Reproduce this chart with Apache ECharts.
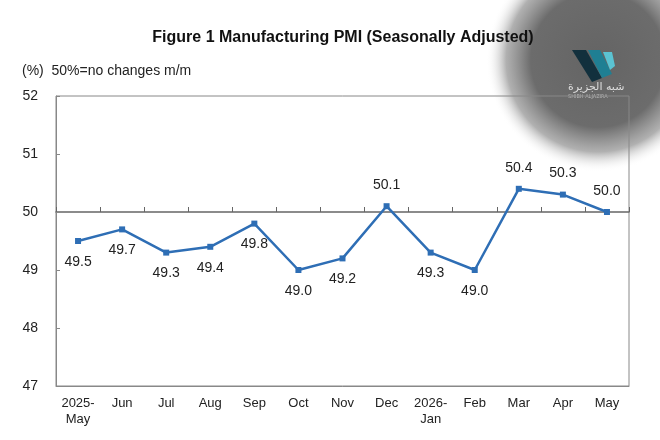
<!DOCTYPE html>
<html lang="en">
<head>
    <meta charset="UTF-8">
    <title>Manufacturing PMI</title>
    <script src="https://cdn.jsdelivr.net/npm/echarts@6/dist/echarts.min.js"></script>
    <style type="text/css">
    html, body { margin: 0; padding: 0; background: #fff; }
    #main { width: 660px; height: 440px; }
    </style>
</head>
<body>
    <div id="main"></div>
    <script type="text/javascript">
        // data
        var months = ['2025-\nMay', 'Jun', 'Jul', 'Aug', 'Sep', 'Oct', 'Nov', 'Dec', '2026-\nJan', 'Feb', 'Mar', 'Apr', 'May'];
        var pmi = [49.5, 49.7, 49.3, 49.4, 49.8, 49.0, 49.2, 50.1, 49.3, 49.0, 50.4, 50.3, 50.0];
        var labelAbove = [false, false, false, false, false, false, false, true, false, false, true, true, true];
        var yMin = 47, yMax = 52, baseLine = 50;

        var gridTop = 96, gridBottom = 54;
        var gridHeight = 440 - gridTop - gridBottom;
        // where the 50 line sits, measured up from the bottom of the grid
        var baseOffset = (baseLine - yMin) / (yMax - yMin) * gridHeight;

        var seriesData = [];
        for (var i = 0; i < pmi.length; i++) {
            seriesData.push({
                value: pmi[i],
                label: { position: labelAbove[i] ? 'top' : 'bottom' }
            });
        }

        var myChart = echarts.init(document.getElementById('main'));
        var option = {
            backgroundColor: '#fff',
            animation: false,
            textStyle: { fontFamily: 'Liberation Sans, Arial, sans-serif' },
            title: {
                text: 'Figure 1 Manufacturing PMI (Seasonally Adjusted)',
                left: 338,
                textAlign: 'center',
                top: 25,
                textStyle: { fontSize: 16, fontWeight: 'bold', color: '#111' }
            },
            graphic: [{
                // watermark behind the chart
                type: 'circle',
                z: -10,
                silent: true,
                shape: { cx: 598, cy: 60, r: 112 },
                style: {
                    fill: {
                        type: 'radial', x: 0.5, y: 0.5, r: 0.5,
                        colorStops: [
                            { offset: 0, color: 'rgba(100,100,100,1)' },
                            { offset: 0.6, color: 'rgba(108,108,108,1)' },
                            { offset: 0.82, color: 'rgba(150,150,150,0.75)' },
                            { offset: 1, color: 'rgba(255,255,255,0)' }
                        ]
                    }
                }
            }, {
                type: 'polygon', z: -9, silent: true,
                shape: { points: [[572, 50], [586, 50], [602, 78], [592, 82]] },
                style: { fill: '#12303d' }
            }, {
                type: 'polygon', z: -9, silent: true,
                shape: { points: [[588, 50], [600, 50], [612, 74], [602, 78]] },
                style: { fill: '#1f7f93' }
            }, {
                type: 'polygon', z: -9, silent: true,
                shape: { points: [[603, 52], [612, 52], [615, 66], [610, 70]] },
                style: { fill: '#5bc3d2' }
            }, {
                type: 'text', z: -9, silent: true,
                left: 568, top: 82,
                style: { text: 'شبه الجزيرة', fill: '#ddd', font: '11px DejaVu Sans' }
            }, {
                type: 'text', z: -9, silent: true,
                left: 568, top: 94,
                style: { text: 'SHIBH ALJAZIRA', fill: '#bbb', font: '5px DejaVu Sans' }
            }, {
                type: 'text',
                left: 22, top: 64,
                style: { text: '(%)  50%=no changes m/m', fill: '#222', font: '14px Liberation Sans' }
            }],
            grid: {
                left: 56,
                right: 31,
                top: gridTop,
                bottom: gridBottom,
                show: true,
                borderColor: '#888',
                borderWidth: 1
            },
            xAxis: [{
                type: 'category',
                data: months,
                boundaryGap: true,
                axisLine: { lineStyle: { color: '#888', width: 1 } },
                axisTick: { show: false },
                axisLabel: { color: '#222', fontSize: 13, lineHeight: 16, margin: 9, interval: 0 }
            }, {
                // the 50 line with its ticks
                type: 'category',
                data: months,
                position: 'bottom',
                offset: -baseOffset,
                boundaryGap: true,
                axisLine: { lineStyle: { color: '#666', width: 1.5 } },
                axisTick: { show: true, inside: true, length: 5, lineStyle: { color: '#666' } },
                axisLabel: { show: false }
            }],
            yAxis: {
                type: 'value',
                min: yMin,
                max: yMax,
                interval: 1,
                splitLine: { show: false },
                axisLine: { show: true, lineStyle: { color: '#888' } },
                axisTick: { show: true, inside: true, length: 4, lineStyle: { color: '#888' } },
                axisLabel: { color: '#222', fontSize: 14, margin: 18 }
            },
            series: [{
                type: 'line',
                data: seriesData,
                symbol: 'rect',
                symbolSize: 6,
                lineStyle: { color: '#2e6eb5', width: 2.5 },
                itemStyle: { color: '#2e6eb5' },
                label: {
                    show: true,
                    distance: 11,
                    color: '#222',
                    fontSize: 14,
                    formatter: function (p) { return p.value.toFixed(1); }
                },
                z: 5
            }]
        };
        myChart.setOption(option);
    </script>
</body>
</html>
